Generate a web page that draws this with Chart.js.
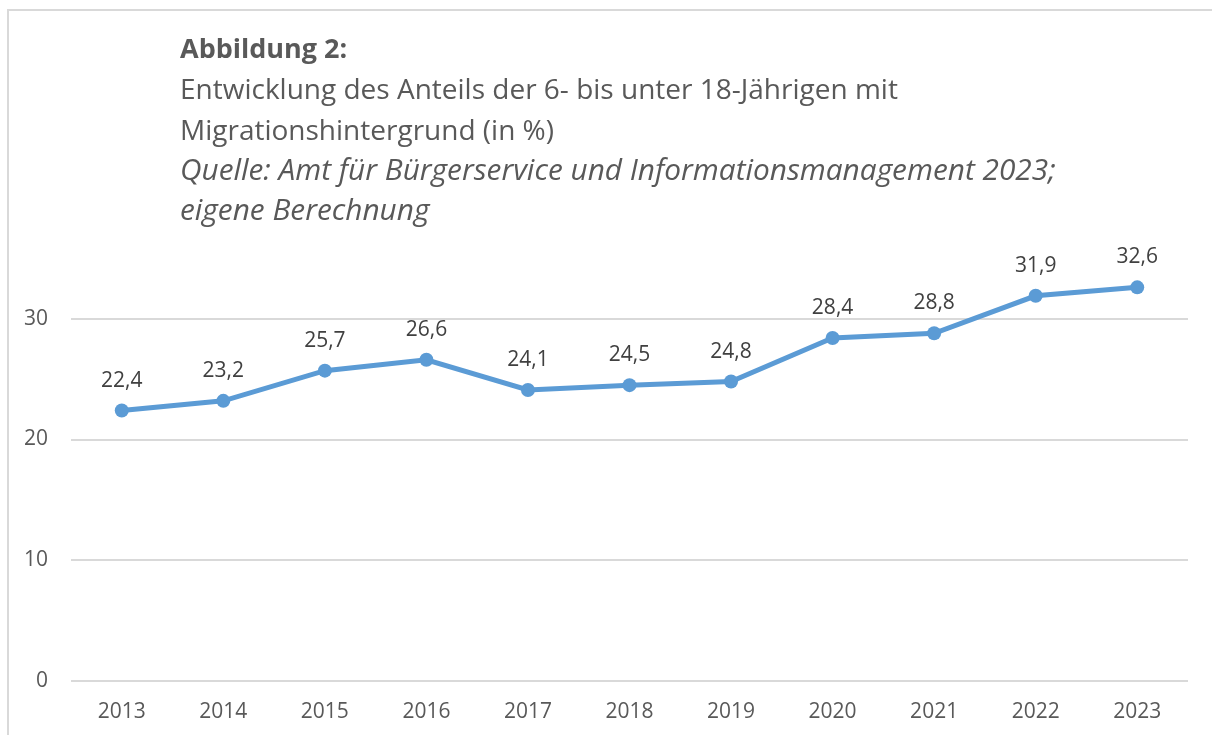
<!DOCTYPE html>
<html lang="de">
<head>
<meta charset="utf-8">
<title>Abbildung 2</title>
<script src="https://cdn.jsdelivr.net/npm/chart.js@4"></script>
<style>
  html, body { margin: 0; padding: 0; background: #fff; overflow: hidden; }
  #rahmen { position: absolute; left: 7px; top: 9px; width: 1230px; height: 760px; border: 2px solid #d9d9d9; }
  #grafik { position: absolute; left: 0; top: 0; }
  #titel {
    position: absolute; left: 180px; top: 27px;
    font-family: "Open Sans", sans-serif; font-size: 28px; line-height: 40.3px; color: #595959;
    white-space: nowrap;
  }
  #titel b { font-weight: 700; font-size: 27px; }
  #titel i { font-size: 29.8px; }
</style>
</head>
<body>
<div id="rahmen"></div>
<canvas id="grafik" width="1212" height="735"></canvas>
<div id="titel">
  <b>Abbildung 2:</b><br>
  Entwicklung des Anteils der 6- bis unter 18-Jährigen mit<br>
  Migrationshintergrund (in %)<br>
  <i>Quelle: Amt für Bürgerservice und Informationsmanagement 2023;</i><br>
  <i>eigene Berechnung</i>
</div>
<script>
// Jahre (x-Achse) und Anteile in %
const jahre = ["2013", "2014", "2015", "2016", "2017", "2018", "2019", "2020", "2021", "2022", "2023"];
const anteile = [22.4, 23.2, 25.7, 26.6, 24.1, 24.5, 24.8, 28.4, 28.8, 31.9, 32.6];
const yTicks = [0, 10, 20, 30];

const blau = "#5b9bd5";
const schrift = "'Open Sans', sans-serif";

// Werte mit Komma ueber die Punkte schreiben
const datenLabels = {
  id: "datenLabels",
  afterDatasetsDraw(chart) {
    const ctx = chart.ctx;
    const meta = chart.getDatasetMeta(0);
    ctx.save();
    ctx.font = "21px " + schrift;
    ctx.fillStyle = "#404040";
    ctx.textAlign = "center";
    ctx.textBaseline = "alphabetic";
    meta.data.forEach((pt, i) => {
      ctx.fillText(anteile[i].toFixed(1).replace(".", ","), pt.x, pt.y - 24);
    });
    ctx.restore();
  },
};

new Chart(document.getElementById("grafik"), {
  type: "line",
  data: {
    labels: jahre,
    datasets: [
      {
        data: anteile,
        borderColor: blau,
        backgroundColor: blau,
        borderWidth: 5,
        pointRadius: 7,
        pointBorderWidth: 0,
        pointBackgroundColor: blau,
        tension: 0,
        fill: false,
      },
    ],
  },
  options: {
    responsive: false,
    animation: false,
    devicePixelRatio: 1,
    layout: { padding: { top: 198, right: 24, left: 0, bottom: 0 } },
    plugins: { legend: { display: false }, tooltip: { enabled: false } },
    scales: {
      x: {
        offset: true,
        grid: { display: false, drawTicks: false },
        border: { display: false },
        ticks: { color: "#595959", font: { family: schrift, size: 21 }, padding: 18, maxRotation: 0 },
        afterFit: (s) => { s.height = 54; },
      },
      y: {
        min: 0,
        max: 40,
        afterBuildTicks: (s) => { s.ticks = yTicks.map((v) => ({ value: v })); },
        grid: { color: "#d9d9d9", lineWidth: 2, drawTicks: false },
        border: { display: false },
        ticks: { color: "#595959", font: { family: schrift, size: 21 }, padding: 23 },
        afterFit: (s) => { s.width = 71; },
      },
    },
  },
  plugins: [datenLabels],
});
</script>
</body>
</html>
